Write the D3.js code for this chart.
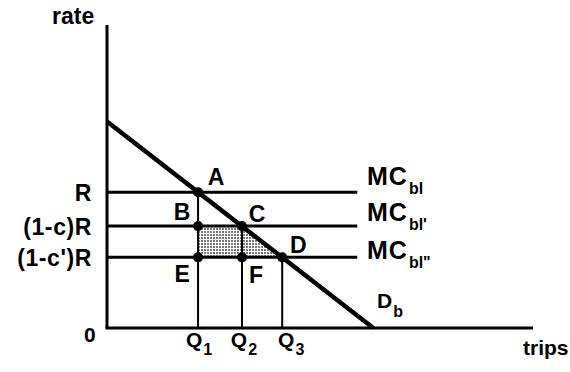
<!DOCTYPE html>
<html>
<head>
<meta charset="utf-8">
<script src="https://cdn.jsdelivr.net/npm/d3@7"></script>
<style>
  html, body { margin: 0; padding: 0; background: #fff; }
  svg text { font-family: "Liberation Sans", Arial, sans-serif; font-weight: bold; fill: #000; }
</style>
</head>
<body>
<svg id="chart" width="570" height="372"></svg>
<script>
// ---- data ----
const rateLabels = ["R", "(1-c)R", "(1-c')R"];
const rateValues = [1.0, 0.75, 0.52];
const mcSubs = ["bl", "bl'", "bl\""];
const qLabels = ["1", "2", "3"];
const qValues = [0.342, 0.507, 0.658];
const demandRateIntercept = 1.52;
const demandQtyIntercept = 1.0;
const mcLineEnd = 0.94;
const pointNames = ["A", "B", "C", "D", "E", "F"];
// which (q index, rate index) each point sits on
const pointQ = [0, 0, 1, 2, 0, 1];
const pointR = [0, 1, 1, 2, 2, 2];

// ---- scales ----
const x = d3.scaleLinear().domain([0, 1.6]).range([107, 533]);
const y = d3.scaleLinear().domain([0, 2.23]).range([328, 25]);

const svg = d3.select("#chart");

// stipple pattern
const defs = svg.append("defs");
const pat = defs.append("pattern").attr("id", "stip").attr("patternUnits", "userSpaceOnUse")
  .attr("width", 3).attr("height", 3);
pat.append("rect").attr("width", 3).attr("height", 3).attr("fill", "#fff");
pat.append("rect").attr("width", 2).attr("height", 2).attr("fill", "#7a7a7a");

// shaded rectangle B-C-F-E
svg.append("path")
  .attr("d", d3.line()([
    [x(qValues[0]), y(rateValues[1])], [x(qValues[1]), y(rateValues[1])],
    [x(qValues[1]), y(rateValues[2])], [x(qValues[0]), y(rateValues[2])]]) + "Z")
  .attr("fill", "url(#stip)");
// shaded triangle C-D-F
svg.append("path")
  .attr("d", d3.line()([
    [x(qValues[1]), y(rateValues[1])], [x(qValues[2]), y(rateValues[2])],
    [x(qValues[1]), y(rateValues[2])]]) + "Z")
  .attr("fill", "url(#stip)");

// horizontal MC lines
svg.selectAll(".mc").data(rateValues).enter().append("line")
  .attr("x1", x(0)).attr("x2", x(mcLineEnd))
  .attr("y1", d => y(d)).attr("y2", d => y(d))
  .attr("stroke", "#000").attr("stroke-width", 3);

// vertical Q lines (from the point on the demand curve down to axis)
svg.selectAll(".q").data(qValues).enter().append("line")
  .attr("x1", d => x(d)).attr("x2", d => x(d))
  .attr("y1", (d, i) => y(rateValues[i])).attr("y2", y(0))
  .attr("stroke", "#000").attr("stroke-width", 2);

// demand line
svg.append("line")
  .attr("x1", x(0)).attr("y1", y(demandRateIntercept))
  .attr("x2", x(demandQtyIntercept)).attr("y2", y(0))
  .attr("stroke", "#000").attr("stroke-width", 4.5);

// axes
svg.append("line").attr("x1", x(0)).attr("x2", x(0)).attr("y1", y(2.23)).attr("y2", y(0))
  .attr("stroke", "#000").attr("stroke-width", 3);
svg.append("line").attr("x1", x(0) - 1.5).attr("x2", x(1.6)).attr("y1", y(0)).attr("y2", y(0))
  .attr("stroke", "#000").attr("stroke-width", 3);

// points
svg.selectAll(".pt").data(pointNames).enter().append("circle")
  .attr("cx", (d, i) => x(qValues[pointQ[i]]))
  .attr("cy", (d, i) => y(rateValues[pointR[i]]))
  .attr("r", 5).attr("fill", "#000");

// point labels
const lblOff = { A: [18, -7], B: [-16, -6], C: [15, -4], D: [16, -4], E: [-16, 25], F: [14, 26] };
svg.selectAll(".pl").data(pointNames).enter().append("text")
  .attr("x", (d, i) => x(qValues[pointQ[i]]) + lblOff[d][0])
  .attr("y", (d, i) => y(rateValues[pointR[i]]) + lblOff[d][1])
  .attr("text-anchor", "middle").attr("font-size", 23).text(d => d);

// rate labels
svg.selectAll(".rl").data(rateLabels).enter().append("text")
  .attr("x", 92).attr("y", d => y(rateValues[rateLabels.indexOf(d)]) + 9)
  .attr("text-anchor", "end").attr("font-size", 23).attr("letter-spacing", 0.6).text(d => d);

// MC labels
const mc = svg.selectAll(".mcl").data(mcSubs).enter().append("text")
  .attr("x", 367).attr("y", (d, i) => y(rateValues[i]) - 7 + (i === 2 ? 9 : i === 1 ? 2 : 0))
  .attr("font-size", 25).attr("letter-spacing", 1);
mc.append("tspan").text("MC");
mc.append("tspan").attr("dx", 1).attr("dy", 9).attr("font-size", 16).attr("letter-spacing", 0).text(d => d);

// Q labels
const ql = svg.selectAll(".ql").data(qLabels).enter().append("text")
  .attr("x", (d, i) => x(qValues[i]) + [1, 2, 9][i]).attr("y", 347)
  .attr("text-anchor", "middle").attr("font-size", 21);
ql.append("tspan").text("Q");
ql.append("tspan").attr("dx", 1).attr("dy", 8).attr("font-size", 16).text(d => d);

// D_b
const db = svg.append("text").attr("x", 377).attr("y", 308).attr("font-size", 21);
db.append("tspan").text("D");
db.append("tspan").attr("dx", 1).attr("dy", 9).attr("font-size", 16).text("b");

// axis titles
svg.append("text").attr("x", 52).attr("y", 24).attr("font-size", 23).text("rate");
svg.append("text").attr("x", 523).attr("y", 355).attr("font-size", 21).text("trips");
svg.append("text").attr("x", 84).attr("y", 342).attr("font-size", 21).text("0");
</script>
</body>
</html>
